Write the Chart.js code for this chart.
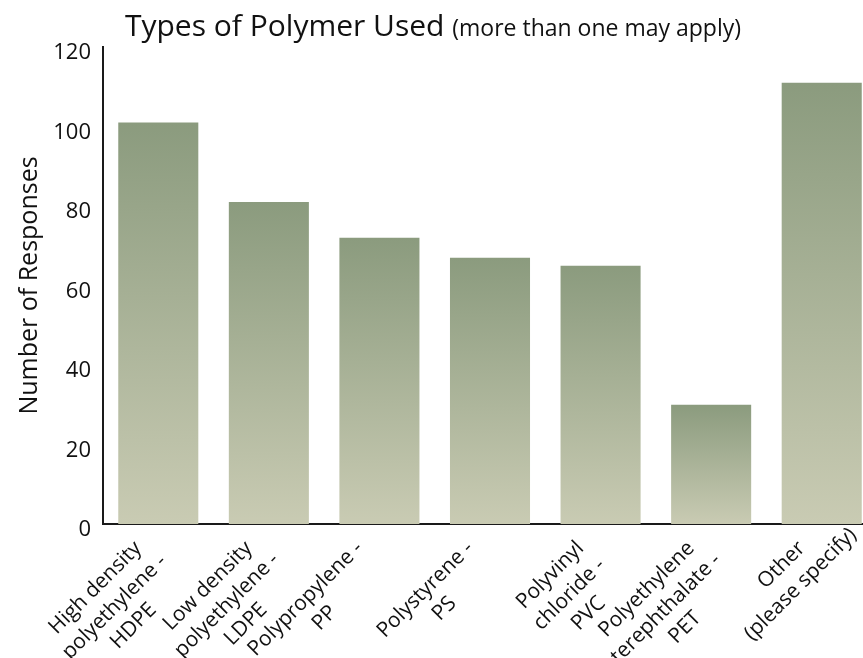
<!DOCTYPE html>
<html>
<head>
<meta charset="utf-8">
<script src="https://cdn.jsdelivr.net/npm/chart.js@4/dist/chart.umd.min.js"></script>
<style>
    html, body { margin: 0; padding: 0; overflow: hidden; background: #FFFFFF; }
    #chart { display: block; }
</style>
</head>
<body>
<canvas id="chart" width="877" height="658"></canvas>
<script>
// --- data ---
const categories = [
    ['High density', 'polyethylene -', 'HDPE'],
    ['Low density', 'polyethylene -', 'LDPE'],
    ['Polypropylene -', 'PP'],
    ['Polystyrene -', 'PS'],
    ['Polyvinyl', 'chloride -', 'PVC'],
    ['Polyethylene', 'terephthalate -', 'PET'],
    ['Other', '(please specify)']
];
const responses = [101, 81, 72, 67, 65, 30, 111];
const yMin = 0;
const yMax = 120;
const yStep = 20;

const titleMain = 'Types of Polymer Used';
const titleNote = '(more than one may apply)';
const yTitle = 'Number of Responses';

const FONT = "'Open Sans', 'Noto Sans', sans-serif";
const barTop = '#8B9B7E';
const barBottom = '#C9CBB3';

// bar fill runs from each bar's own top down to the zero line
function barGradient(ctx) {
    const chart = ctx.chart;
    if (!chart.chartArea || ctx.type !== 'data') return barTop;
    const y = chart.scales.y;
    const top = y.getPixelForValue(ctx.raw);
    const base = y.getPixelForValue(0);
    const g = chart.ctx.createLinearGradient(0, top, 0, base);
    g.addColorStop(0, barTop);
    g.addColorStop(1, barBottom);
    return g;
}

// title in two sizes on one line
const titlePlugin = {
    id: 'twoPartTitle',
    afterDraw(chart) {
        const {ctx} = chart;
        ctx.save();
        ctx.fillStyle = '#111111';
        ctx.textBaseline = 'alphabetic';
        ctx.textAlign = 'left';
        ctx.font = '30px ' + FONT;
        const w1 = ctx.measureText(titleMain + ' ').width;
        ctx.font = '23px ' + FONT;
        const w2 = ctx.measureText(titleNote).width;
        const x0 = 433 - (w1 + w2) / 2;
        ctx.font = '30px ' + FONT;
        ctx.fillText(titleMain, x0, 36);
        ctx.font = '23px ' + FONT;
        ctx.fillText(titleNote, x0 + w1, 36);
        ctx.restore();
    }
};

// rotated category labels, lines centred on each other
const categoryLabels = {
    id: 'categoryLabels',
    afterDraw(chart) {
        const {ctx} = chart;
        const xs = chart.scales.x;
        const lineH = 27;
        ctx.save();
        ctx.font = '21px ' + FONT;
        ctx.fillStyle = '#111111';
        ctx.textAlign = 'center';
        ctx.textBaseline = 'middle';
        chart.data.labels.forEach((lines, i) => {
            const x = xs.getPixelForTick(i) - 20;
            const y = xs.top + 21;
            const w1 = ctx.measureText(lines[0]).width;
            ctx.save();
            ctx.translate(x, y);
            ctx.rotate(-Math.PI / 4);
            lines.forEach((t, j) => ctx.fillText(t, -w1 / 2, j * lineH));
            ctx.restore();
        });
        ctx.restore();
    }
};

new Chart(document.getElementById('chart').getContext('2d'), {
    type: 'bar',
    data: {
        labels: categories,
        datasets: [{
            data: responses,
            backgroundColor: barGradient,
            borderWidth: 0,
            categoryPercentage: 1,
            barPercentage: 0.724
        }]
    },
    plugins: [titlePlugin, categoryLabels],
    options: {
        responsive: false, animation: false, devicePixelRatio: 1,
        layout: { padding: { top: 47, left: 15, right: 0, bottom: 0 } },
        scales: {
            x: {
                grid: { display: false, drawTicks: false },
                border: { display: true, color: '#1A1A1A', width: 2 },
                ticks: { display: false },
                afterFit: (s) => { s.height = 134; }
            },
            y: {
                min: yMin, max: yMax,
                grid: { display: false, drawTicks: false },
                border: { display: true, color: '#1A1A1A', width: 2 },
                ticks: { stepSize: yStep, padding: 12, labelOffset: 6, color: '#111111', font: { family: FONT, size: 22 } },
                title: { display: true, text: yTitle, color: '#111111', padding: { top: 0, bottom: 0 }, font: { family: FONT, size: 25, lineHeight: 1.2 } },
                afterFit: (s) => { s.width = 88; }
            }
        },
        plugins: { legend: { display: false }, tooltip: { enabled: false } }
    }
});
</script>
</body>
</html>
